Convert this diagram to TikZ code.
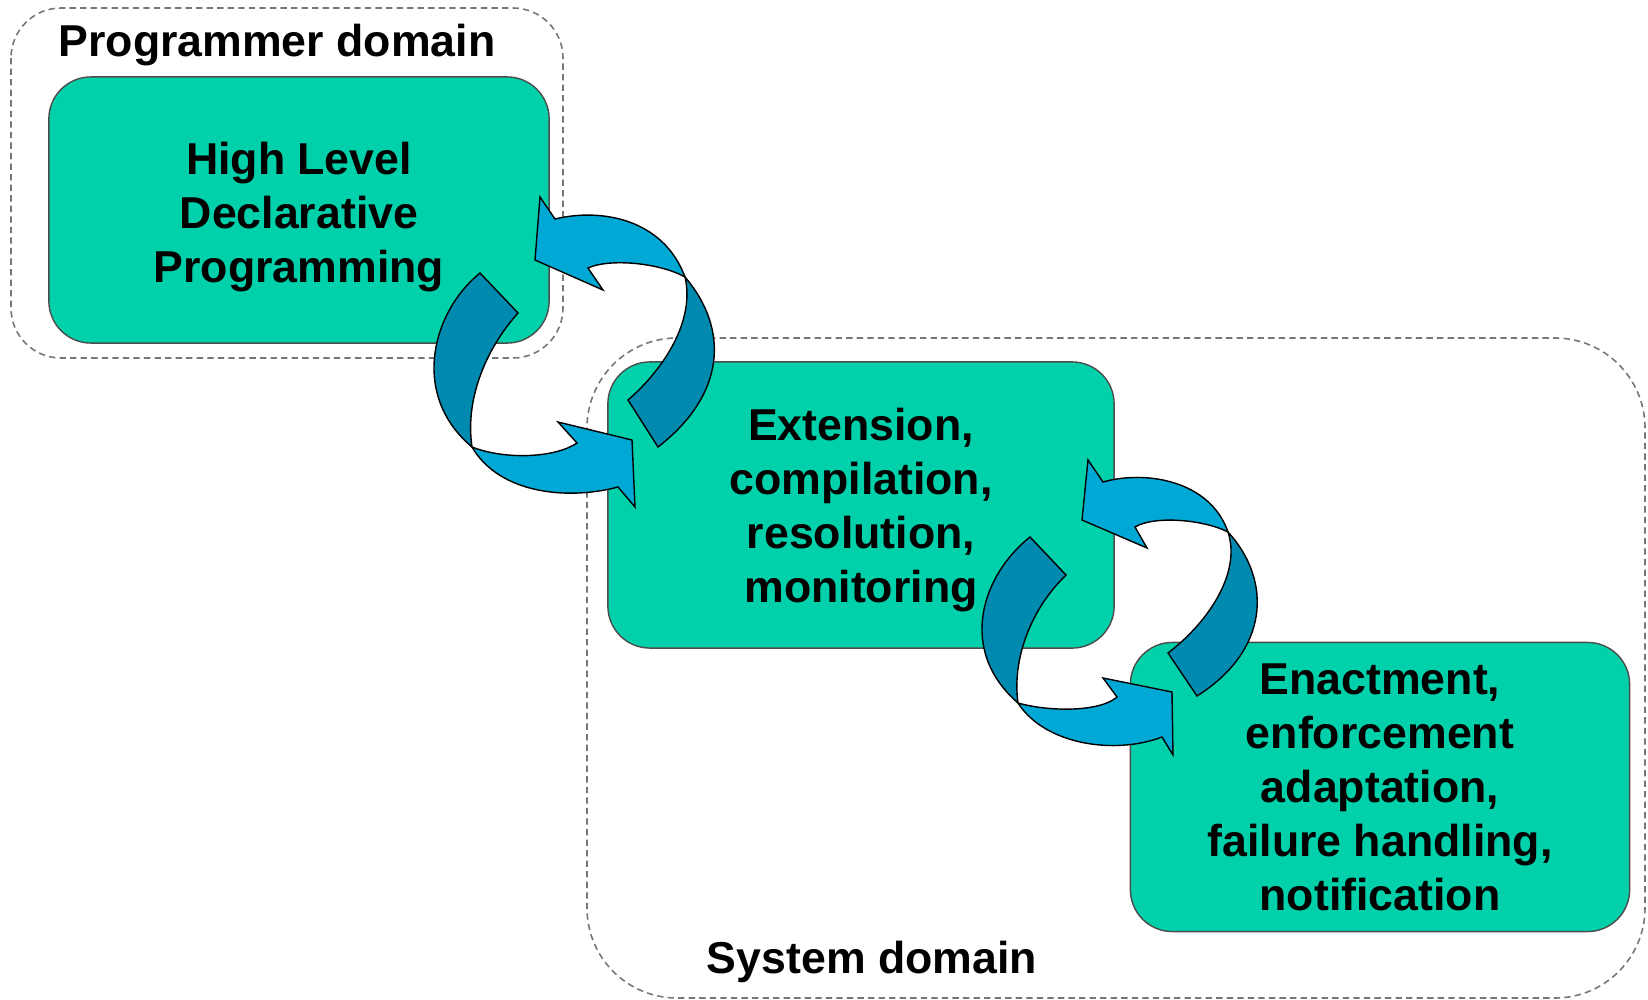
\documentclass[tikz,border=0pt]{standalone}
\usepackage{fontspec}
\setmainfont{Liberation Sans}
\definecolor{boxgreen}{RGB}{0,209,170}
\definecolor{arrowlight}{RGB}{0,168,214}
\definecolor{arrowdark}{RGB}{0,138,176}
\definecolor{domaingray}{RGB}{118,118,118}

\begin{document}
\begin{tikzpicture}[x=0.01cm,y=-0.01cm,font=\fontsize{12.7}{15.4}\selectfont\bfseries]
  \useasboundingbox (0,0) rectangle (1648,1000);
  % domains
  \begin{scope}[domaingray,line width=0.45pt,dash pattern=on 1.8pt off 1.2pt]
     \draw[rounded corners=0.5cm] (11,8) rectangle (563,358);
     \draw[rounded corners=0.9cm] (587,338) rectangle (1645,998);
  \end{scope}
  \node (PD) [anchor=base] at (277,57) {Programmer domain};
  \node (SD) [anchor=base] at (872,973) {System domain};
  \begin{scope}[every node/.style={draw=black!70,fill=boxgreen,rounded corners=0.42cm,
                                    inner sep=0pt}]
     \node (A) [minimum width=5cm,minimum height=2.66cm] at (299,210)
                {\raisebox{-2.1pt}[\height][\depth]{\begin{tabular}{@{}c@{}}High Level\\Declarative\\Programming\end{tabular}}};
     \node (B) [minimum width=5.06cm,minimum height=2.86cm] at (861,505)
                {\raisebox{-1.6pt}[\height][\depth]{\begin{tabular}{@{}c@{}}Extension,\\compilation,\\resolution,\\monitoring\end{tabular}}};
     \node (C) [minimum width=4.99cm,minimum height=2.89cm] at (1380,787)
                {\raisebox{-1.3pt}[\height][\depth]{\begin{tabular}{@{}c@{}}Enactment,\\enforcement\\adaptation,\\failure handling,\\notification\end{tabular}}};
  \end{scope}
  % arrows between A and B
  \begin{scope}[draw=black,line width=0.4pt]
     \filldraw[fill=arrowlight] (535,260) -- (540,197) -- (555,219)
          .. controls (600,208) and (663,218) .. (685,277)
          .. controls (660,263) and (610,258) .. (588,268)
          -- (603,290) -- cycle;
     \filldraw[fill=arrowdark] (685,277)
          .. controls (730,330) and (725,395) .. (658,447) -- (628,400)
          .. controls (665,368) and (695,320) .. (685,277) -- cycle;
     \filldraw[fill=arrowdark] (480,273)
          .. controls (432,312) and (410,395) .. (472,447)
          .. controls (465,400) and (485,350) .. (518,313) -- cycle;
     \filldraw[fill=arrowlight] (472,447)
          .. controls (500,495) and (570,500) .. (618,487)
          -- (635,507) -- (632,440) -- (558,422) -- (577,443)
          .. controls (555,458) and (505,460) .. (472,447) -- cycle;
  \end{scope}
  % arrows between B and C
  \begin{scope}[draw=black,line width=0.4pt]
     \filldraw[fill=arrowlight] (1082,520) -- (1088,460) -- (1103,482)
          .. controls (1145,470) and (1210,480) .. (1228,532)
          .. controls (1205,520) and (1155,515) .. (1135,527)
          -- (1147,548) -- cycle;
     \filldraw[fill=arrowdark] (1228,532)
          .. controls (1272,580) and (1270,650) .. (1197,696) -- (1168,653)
          .. controls (1205,625) and (1242,575) .. (1228,532) -- cycle;
     \filldraw[fill=arrowdark] (1030,537)
          .. controls (982,575) and (957,650) .. (1018,703)
          .. controls (1012,660) and (1030,610) .. (1066,575) -- cycle;
     \filldraw[fill=arrowlight] (1018,703)
          .. controls (1045,745) and (1115,755) .. (1162,737)
          -- (1173,755) -- (1172,692) -- (1103,678) -- (1117,697)
          .. controls (1100,712) and (1050,712) .. (1018,703) -- cycle;
  \end{scope}
\end{tikzpicture}
\end{document}
